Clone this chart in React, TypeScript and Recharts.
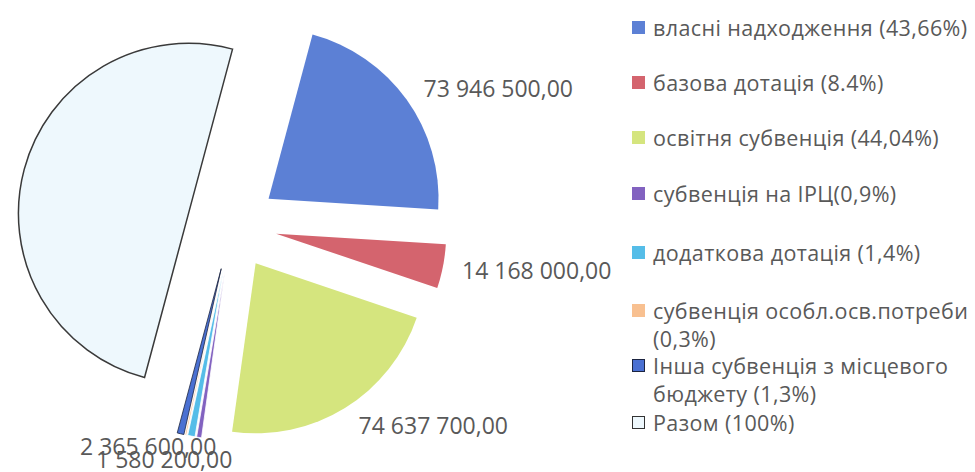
import React from "react";
import { PieChart, Pie, Sector } from "recharts";

const categories = [
  "власні надходження (43,66%)",
  "базова дотація (8.4%)",
  "освітня субвенція (44,04%)",
  "субвенція на ІРЦ(0,9%)",
  "додаткова дотація (1,4%)",
  "субвенція особл.осв.потреби (0,3%)",
  "Інша субвенція з місцевого бюджету (1,3%)",
  "Разом (100%)",
];
const amounts = [73946500, 14168000, 74637700, 1580200, 2365600, 508100, 2162900, 169369000];
// only these slices carry a data label in the original
const valueLabels = ["73 946 500,00", "14 168 000,00", "74 637 700,00", "1 580 200,00", "2 365 600,00", "", "", ""];
const legendLines = [
  ["власні надходження (43,66%)"],
  ["базова дотація (8.4%)"],
  ["освітня субвенція (44,04%)"],
  ["субвенція на ІРЦ(0,9%)"],
  ["додаткова дотація (1,4%)"],
  ["субвенція особл.осв.потреби", "(0,3%)"],
  ["Інша субвенція з місцевого", "бюджету (1,3%)"],
  ["Разом (100%)"],
];

const colors = ["#5c80d5", "#d4646e", "#d5e57e", "#8262c0", "#55bde8", "#f8c090", "#4a70d2", "#eef8fd"];
const strokes = ["none", "none", "none", "#ffffff", "#ffffff", "#ffffff", "#1c2440", "#3a3a3a"];
const legendTops = [14, 69, 124, 180, 239, 297, 352, 409];

const data = categories.map((name, i) => ({ name, value: amounts[i] }));

const RAD = Math.PI / 180;
const EXPLODE = 45;
const FONT = "'Open Sans', 'Noto Sans', sans-serif";

function renderSlice(props: any) {
  const { cx, cy, midAngle, startAngle, endAngle, outerRadius, index, percent } = props;
  const dx = Math.cos(-midAngle * RAD);
  const dy = Math.sin(-midAngle * RAD);
  const ox = cx + EXPLODE * dx;
  const oy = cy + EXPLODE * dy;
  const text = valueLabels[index];
  let label = null;
  if (text) {
    const w = text.length * 12;
    const px = ox + (outerRadius + 12) * dx;
    const py = oy + (outerRadius + 12) * dy;
    const lx = px + (dx > 0 ? w / 2 + 4 : dx * w * 1.5);
    let ly = py + dy * 8;
    // thin neighbouring slices: labels stacked like Excel does
    if (percent < 0.02 && valueLabels[index + 1]) ly += 2;
    else if (percent < 0.02 && valueLabels[index - 1]) ly -= 10;
    label = (
      <text
        x={lx}
        y={ly}
        textAnchor="middle"
        dominantBaseline="central"
        fill="#595959"
        fontSize={23}
        fontFamily={FONT}
      >
        {text}
      </text>
    );
  }
  return (
    <g key={`slice-${index}`}>
      <Sector
        cx={ox}
        cy={oy}
        innerRadius={0}
        outerRadius={outerRadius}
        startAngle={startAngle}
        endAngle={endAngle}
        fill={colors[index]}
        stroke={strokes[index]}
        strokeWidth={index === 7 ? 1.5 : 0.8}
      />
      {label}
    </g>
  );
}

function LegendBox() {
  return (
    <div
      style={{
        position: "absolute",
        left: 632,
        top: 0,
        fontFamily: FONT,
        fontSize: 21.5,
        letterSpacing: 0.4,
        color: "#595959",
      }}
    >
      {legendLines.map((lines, i) => (
        <div key={i} style={{ position: "absolute", top: legendTops[i], left: 0, whiteSpace: "nowrap", lineHeight: "28px" }}>
          <span
            style={{
              position: "absolute",
              left: 0,
              top: 7,
              width: 13,
              height: 13,
              background: colors[i],
              border: i === 7 ? "1px solid #333" : i === 6 ? "1px solid #1c2440" : "none",
              boxSizing: "border-box",
            }}
          />
          {lines.map((l, j) => (
            <div key={j} style={{ paddingLeft: 21 }}>
              {l}
            </div>
          ))}
        </div>
      ))}
    </div>
  );
}

export default function App() {
  return (
    <div style={{ position: "absolute", left: 0, top: 0, width: 975, height: 472, background: "#ffffff" }}>
      <PieChart width={975} height={472}>
        <Pie
          data={data}
          dataKey="value"
          nameKey="name"
          cx={227}
          cy={220}
          outerRadius={170}
          startAngle={75}
          endAngle={-285}
          fill="none"
          stroke="none"
          labelLine={false}
          label={renderSlice}
          isAnimationActive={false}
        />
      </PieChart>
      <LegendBox />
    </div>
  );
}
